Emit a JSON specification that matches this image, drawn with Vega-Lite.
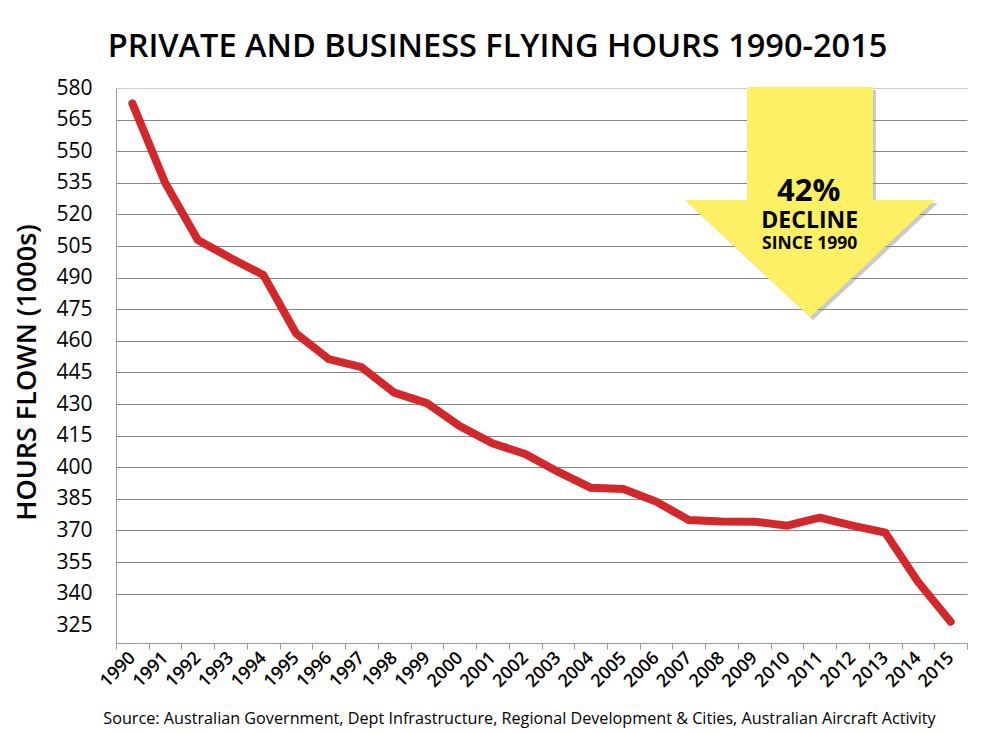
{
  "$schema": "https://vega.github.io/schema/vega-lite/v6.json",
  "autosize": {"type": "none"},
  "padding": {"left": 116, "top": 88, "right": 16, "bottom": 90},
  "width": 851,
  "height": 555,
  "background": "white",
  "config": {
    "font": "Open Sans",
    "view": {"stroke": null}
  },
  "title": {
    "text": "PRIVATE AND BUSINESS FLYING HOURS 1990-2015",
    "fontSize": 32.5,
    "fontWeight": 600,
    "color": "#000000",
    "anchor": "middle",
    "baseline": "alphabetic",
    "offset": 31,
    "dx": -44,
    "dy": 43
  },
  "data": {
    "values": [
      {"year": "1990", "hours": 572.7},
      {"year": "1991", "hours": 535.0},
      {"year": "1992", "hours": 507.9},
      {"year": "1993", "hours": 499.3},
      {"year": "1994", "hours": 491.3},
      {"year": "1995", "hours": 463.6},
      {"year": "1996", "hours": 451.3},
      {"year": "1997", "hours": 447.5},
      {"year": "1998", "hours": 435.4},
      {"year": "1999", "hours": 430.4},
      {"year": "2000", "hours": 419.6},
      {"year": "2001", "hours": 411.4},
      {"year": "2002", "hours": 406.3},
      {"year": "2003", "hours": 397.9},
      {"year": "2004", "hours": 390.3},
      {"year": "2005", "hours": 389.7},
      {"year": "2006", "hours": 383.7},
      {"year": "2007", "hours": 375.0},
      {"year": "2008", "hours": 374.3},
      {"year": "2009", "hours": 374.2},
      {"year": "2010", "hours": 372.3},
      {"year": "2011", "hours": 376.1},
      {"year": "2012", "hours": 372.3},
      {"year": "2013", "hours": 369.0},
      {"year": "2014", "hours": 345.7},
      {"year": "2015", "hours": 326.7}
    ]
  },
  "encoding": {
    "x": {
      "field": "year",
      "type": "ordinal",
      "scale": {"type": "band", "paddingInner": 0, "paddingOuter": 0},
      "axis": {
        "title": "Source: Australian Government, Dept Infrastructure, Regional Development & Cities, Australian Aircraft Activity",
        "titleFontSize": 16.2,
        "titleFontWeight": "normal",
        "titleColor": "#000000",
        "titleX": 403,
        "titleY": 80,
        "titleAlign": "center",
        "titleBaseline": "alphabetic",
        "labelAngle": -45,
        "labelAlign": "right",
        "labelBaseline": "middle",
        "labelFontSize": 18,
        "labelFontWeight": 600,
        "labelColor": "#000000",
        "labelPadding": 6,
        "tickBand": "extent",
        "tickColor": "#999999",
        "tickSize": 6,
        "domainColor": "#999999",
        "grid": false
      }
    },
    "y": {
      "field": "hours",
      "type": "quantitative",
      "scale": {"domain": [316.6, 580], "nice": false, "zero": false},
      "axis": {
        "title": "HOURS FLOWN (1000s)",
        "titleFontSize": 27,
        "titleFontWeight": 600,
        "titleColor": "#000000",
        "titlePadding": 14,
        "titleY": 284,
        "values": [325, 340, 355, 370, 385, 400, 415, 430, 445, 460, 475, 490, 505, 520, 535, 550, 565, 580],
        "format": "d",
        "labelFontSize": 21,
        "labelColor": "#000000",
        "labelPadding": 24,
        "ticks": false,
        "domainColor": "#999999",
        "grid": true,
        "gridColor": {
          "condition": [
            {"test": "datum.value == 325", "value": "transparent"},
            {"test": "datum.value == 580", "value": "#cccccc"}
          ],
          "value": "#868686"
        },
        "gridWidth": 1.2
      }
    }
  },
  "layer": [
    {
      "mark": {"type": "line", "color": "#d3282b", "strokeWidth": 8, "strokeCap": "round"}
    },
    {
      "transform": [{"filter": "datum.year == '2011'"}],
      "mark": {
        "type": "point",
        "shape": "M -0.582 -0.918 L 0.426 -0.918 L 0.426 -0.014 L 0.922 -0.014 L -0.078 0.922 L -1.078 -0.014 L -0.582 -0.014 Z",
        "size": 62500,
        "filled": true,
        "color": "#8a8a8a",
        "opacity": 0.45,
        "strokeWidth": 0,
        "xOffset": 3,
        "yOffset": 3
      },
      "encoding": {"x": {"datum": "2011"}, "y": {"datum": 526}}
    },
    {
      "transform": [{"filter": "datum.year == '2011'"}],
      "mark": {
        "type": "point",
        "shape": "M -0.582 -0.918 L 0.426 -0.918 L 0.426 -0.014 L 0.922 -0.014 L -0.078 0.922 L -1.078 -0.014 L -0.582 -0.014 Z",
        "size": 62500,
        "filled": true,
        "color": "#fdf064",
        "opacity": 1,
        "strokeWidth": 0
      },
      "encoding": {"x": {"datum": "2011"}, "y": {"datum": 526}}
    },
    {
      "transform": [{"filter": "datum.year == '2011'"}],
      "mark": {"type": "text", "text": "42%", "fontSize": 31, "fontWeight": "bold", "color": "#000000", "baseline": "alphabetic", "align": "center", "dx": -11, "dy": -1},
      "encoding": {"x": {"datum": "2011"}, "y": {"datum": 526}}
    },
    {
      "transform": [{"filter": "datum.year == '2011'"}],
      "mark": {"type": "text", "text": "DECLINE", "fontSize": 23, "fontWeight": "bold", "color": "#000000", "baseline": "alphabetic", "align": "center", "dx": -10, "dy": 26},
      "encoding": {"x": {"datum": "2011"}, "y": {"datum": 526}}
    },
    {
      "transform": [{"filter": "datum.year == '2011'"}],
      "mark": {"type": "text", "text": "SINCE 1990", "fontSize": 17.5, "fontWeight": "bold", "color": "#000000", "baseline": "alphabetic", "align": "center", "dx": -10, "dy": 47},
      "encoding": {"x": {"datum": "2011"}, "y": {"datum": 526}}
    }
  ]
}
